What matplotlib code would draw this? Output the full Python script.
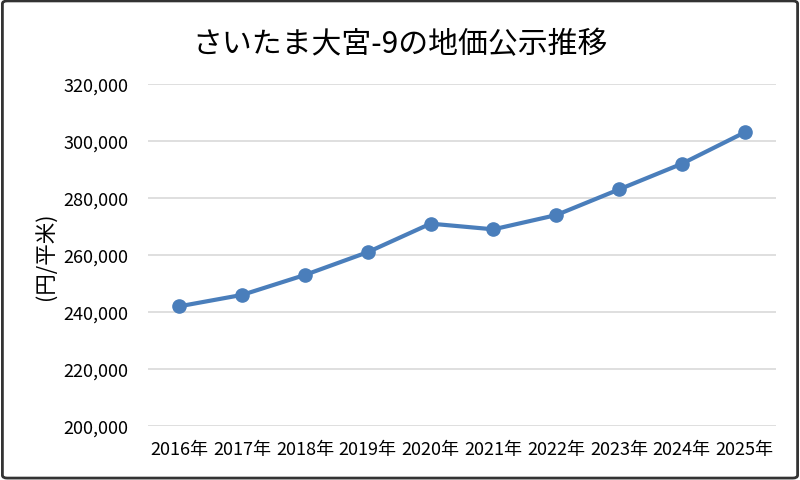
import matplotlib
matplotlib.use("Agg")
import matplotlib.pyplot as plt
from matplotlib.patches import FancyBboxPatch
from matplotlib.ticker import FuncFormatter

plt.rcParams['font.family'] = ['Noto Sans CJK JP', 'DejaVu Sans']

years = ['2016年', '2017年', '2018年', '2019年', '2020年', '2021年', '2022年', '2023年', '2024年', '2025年']
prices = [242000, 246000, 253000, 261000, 271000, 269000, 274000, 283000, 292000, 303000]
title = 'さいたま大宮-9の地価公示推移'
ylabel = '(円/平米)'

fig = plt.figure(figsize=(8, 4.81), dpi=100)
ax = fig.add_axes([0.185, 0.1123, 0.785, 0.711])

x = list(range(len(years)))
ax.plot(x, prices, color='#4A7EBB', lw=3, marker='o', ms=9.5, mfc='#4A7EBB', mec='#4A7EBB', zorder=3)

ax.set_xlim(-0.5, len(years) - 0.5)
ax.set_ylim(200000, 320000)
ax.set_yticks(range(200000, 320001, 20000))
ax.yaxis.set_major_formatter(FuncFormatter(lambda v, p: f'{int(v):,}'))
ax.set_xticks(x)
ax.set_xticklabels(years)
ax.tick_params(axis='both', length=0, labelsize=13, colors='#000000')
ax.tick_params(axis='y', pad=14)
ax.tick_params(axis='x', pad=10)
ax.grid(axis='y', color='#D9D9D9', lw=1.2)
ax.set_axisbelow(True)
for s in ax.spines.values():
    s.set_visible(False)

ax.set_ylabel(ylabel, fontsize=15.5, labelpad=4)
fig.text(0.5, 0.908, title, ha='center', va='center', fontsize=21.5)

border = FancyBboxPatch((0.003, 0.004), 0.994, 0.992, boxstyle='round,pad=0,rounding_size=0.006',
                        transform=fig.transFigure, fill=False, ec='#333333', lw=2)
fig.patches.append(border)

fig.savefig('out.png', dpi=100)
